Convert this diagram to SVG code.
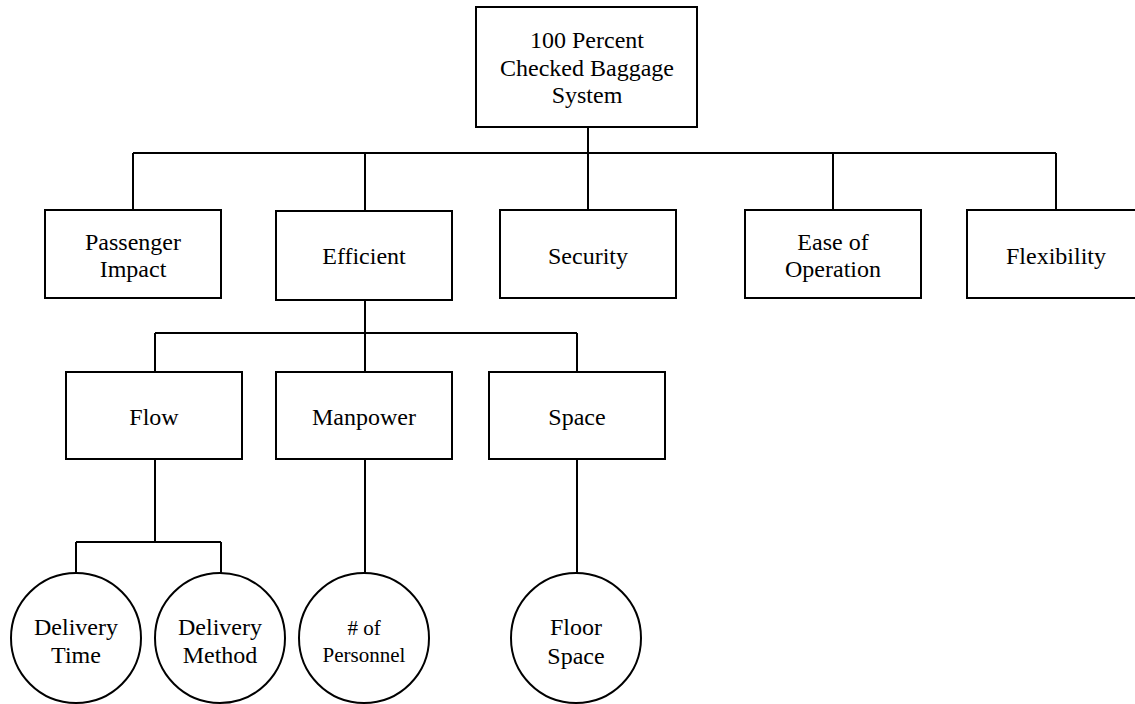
<svg xmlns="http://www.w3.org/2000/svg" width="1135" height="704" viewBox="0 0 1135 704">
<style>
.box{fill:#fff;stroke:#000;stroke-width:2}
.ln{fill:none;stroke:#000;stroke-width:2}
text{font-family:"Liberation Serif","Times New Roman",serif;font-size:24px;fill:#000;text-anchor:middle}
.sm{font-size:21px}
</style>
<rect width="1135" height="704" fill="#fff"/>
<g id="connectors">
<path class="ln" d="M588 127V153M133 153H1056M133 153V210M365 153V210M588 153V210M833 153V210M1056 153V210"/>
<path class="ln" d="M365 300V333M155 333H577M155 333V372M365 333V372M577 333V372"/>
<path class="ln" d="M155 459V542M76 542H221M76 542V573M221 542V573"/>
<path class="ln" d="M365 459V573M577 459V573"/>
</g>
<g id="root"><rect class="box" x="476" y="7" width="221" height="120"/><text x="587" y="48">100 Percent</text><text x="587" y="76">Checked Baggage</text><text x="587" y="103">System</text></g>
<g id="passenger"><rect class="box" x="45" y="210" width="176" height="88"/><text x="133" y="250">Passenger</text><text x="133" y="277">Impact</text></g>
<g id="efficient"><rect class="box" x="276" y="211" width="176" height="89"/><text x="364" y="264">Efficient</text></g>
<g id="security"><rect class="box" x="500" y="210" width="176" height="88"/><text x="588" y="264">Security</text></g>
<g id="ease"><rect class="box" x="745" y="210" width="176" height="88"/><text x="833" y="250">Ease of</text><text x="833" y="277">Operation</text></g>
<g id="flexibility"><rect class="box" x="967" y="210" width="178" height="88"/><text x="1056" y="264">Flexibility</text></g>
<g id="flow"><rect class="box" x="66" y="372" width="176" height="87"/><text x="154" y="425">Flow</text></g>
<g id="manpower"><rect class="box" x="276" y="372" width="176" height="87"/><text x="364" y="425">Manpower</text></g>
<g id="space"><rect class="box" x="489" y="372" width="176" height="87"/><text x="577" y="425">Space</text></g>
<g id="delivery-time"><circle class="box" cx="76" cy="638" r="65"/><text x="76" y="635">Delivery</text><text x="76" y="663">Time</text></g>
<g id="delivery-method"><circle class="box" cx="220" cy="638" r="65"/><text x="220" y="635">Delivery</text><text x="220" y="663">Method</text></g>
<g id="personnel"><circle class="box" cx="364" cy="638" r="65"/><text class="sm" x="364" y="635"># of</text><text class="sm" x="364" y="662">Personnel</text></g>
<g id="floor-space"><circle class="box" cx="576" cy="638" r="65"/><text x="576" y="635">Floor</text><text x="576" y="664">Space</text></g>
</svg>
